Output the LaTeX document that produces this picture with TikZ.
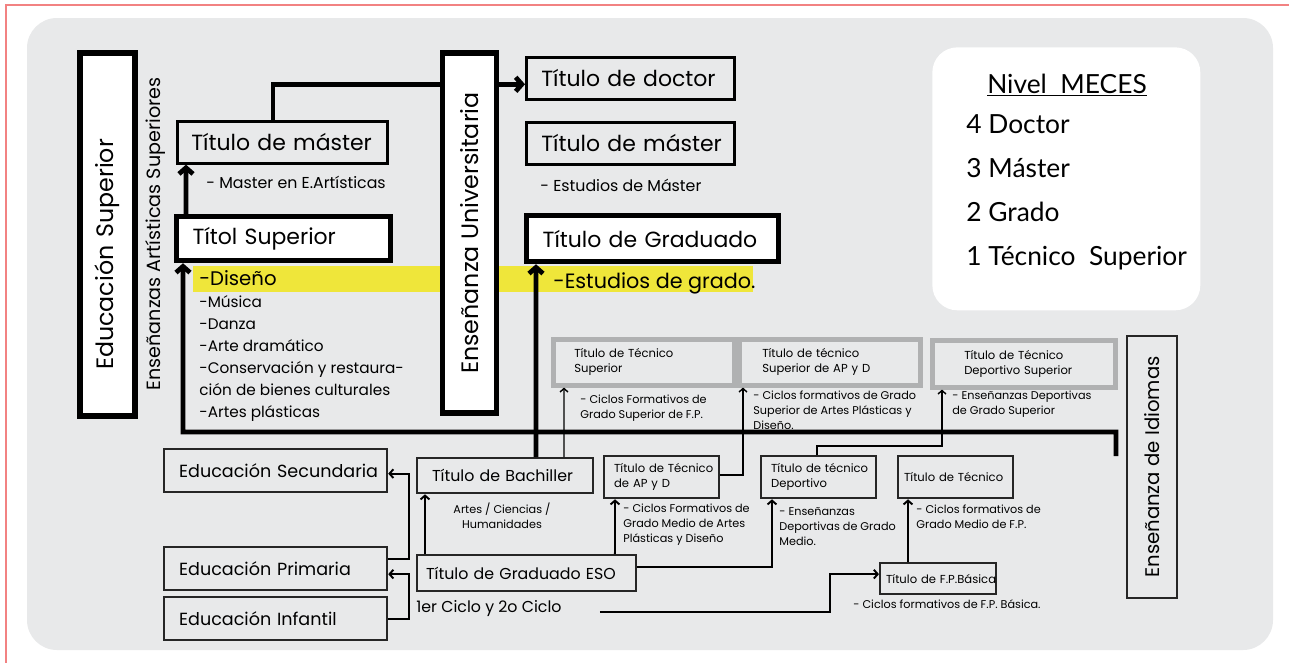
\documentclass[tikz,border=0pt]{standalone}
\usepackage{fontspec}
\setmainfont{Poppins}
\newfontfamily\mecesfont{Lato}
\usetikzlibrary{arrows.meta}

\hyphenpenalty=10000
\exhyphenpenalty=10000
\hbadness=10000
\hfuzz=50pt

\definecolor{panelgrey}{RGB}{232,233,234}
\definecolor{hilite}{RGB}{239,230,58}
\definecolor{framegrey}{RGB}{176,177,178}
\definecolor{edgered}{RGB}{242,130,130}

\newcommand\fsbig{\fontsize{12.5}{15}\selectfont}
\newcommand\fsvert{\fontsize{13.5}{16}\selectfont}
\newcommand\fsart{\fontsize{10.9}{13}\selectfont}
\newcommand\fsmid{\fontsize{9}{11}\selectfont}
\newcommand\fslist{\fontsize{8.7}{12.5}\selectfont}
\newcommand\fsdis{\fontsize{11.2}{12.5}\selectfont}
\newcommand\fsgrado{\fontsize{11.8}{14}\selectfont}
\newcommand\fslow{\fontsize{10}{12}\selectfont}
\newcommand\fsbach{\fontsize{9}{11}\selectfont}
\newcommand\fsbox{\fontsize{6.6}{8.6}\selectfont}
\newcommand\fssmall{\fontsize{6.4}{8.5}\selectfont}
\newcommand\fsidi{\fontsize{11.2}{13}\selectfont}
\newcommand\fsmeces{\mecesfont\fontsize{15}{25}\selectfont}

\tikzset{
	thinbox/.style={draw=black, line width=1.5pt, inner ysep=0pt, align=left, anchor=north west},
	thickbox/.style={draw=black, fill=white, line width=3pt, inner ysep=0pt, align=left},
	lowbox/.style={draw=black!85, line width=1.3pt, inner ysep=0pt, align=left, anchor=north west},
	greybox/.style={draw=framegrey, line width=2.6pt, inner ysep=0pt, align=left, anchor=north west},
	note/.style={inner sep=0pt, align=left, anchor=north west},
	trunk/.style={line width=2.7pt, -{Straight Barb[length=3.5pt,width=8pt]}},
	link/.style={line width=1.1pt, -{Straight Barb[length=2.2pt,width=5pt]}},
	finelink/.style={line width=0.8pt, -{Straight Barb[length=2pt,width=4.5pt]}},
}

\begin{document}
\begin{tikzpicture}[x=0.02cm, y=-0.02cm]
			%%%%% START %%%%%
			\useasboundingbox (0,0) rectangle (1289,663);
			\fill[white] (0,0) rectangle (1289,663);
			\draw[edgered, line width=0.6pt] (6,663) -- (6,5) -- (1289,5);
			\fill[panelgrey, rounded corners=0.6cm] (27,18) rectangle (1273,650);
			
			\fill[hilite] (193,266) rectangle (753,292);
			
			%%%%% ARTISTIC %%%%%
			\node[thickbox, rotate=90, text width=5.42cm, inner xsep=0.92cm, minimum height=1.1cm, font=\fsvert] (edsup) at (107.5,234.5) {Educación Superior};
			\node[rotate=90, inner sep=0pt, font=\fsart] (easup) at (156,234) {Enseñanzas Artísticas Superiores};
			
			\node[thinbox, text width=3.64cm, inner xsep=0.28cm, minimum height=0.84cm, font=\fsbig] (mastart) at (176,120) {Título~de~máster};
			\node[note, anchor=base west, font=\fsmid] (mastarttxt) at (206,188) {- Master en E.Artísticas};
			\node[thickbox, anchor=north west, text width=3.64cm, inner xsep=0.32cm, minimum height=0.88cm, font=\fsbig] (titolsup) at (174,214) {Títol~Superior};
			\node[note, font=\fslist] (listart) at (199,270) {{\fsdis -Diseño}\\-Música\\-Danza\\-Arte dramático\\-Conservación y restaura-\\ción de bienes culturales\\-Artes plásticas};
			
			%%%%% UNIVERSITY %%%%%
			\node[thinbox, text width=3.56cm, inner xsep=0.3cm, minimum height=0.84cm, font=\fsbig] (doctor) at (525,56) {Título~de~doctor};
			\node[thinbox, text width=3.56cm, inner xsep=0.3cm, minimum height=0.84cm, font=\fsbig] (masteru) at (525,121) {Título~de~máster};
			\node[note, anchor=base west, font=\fsmid] (masterutxt) at (540,191) {- Estudios de Máster};
			\node[thickbox, anchor=north west, text width=4.4cm, inner xsep=0.32cm, minimum height=0.92cm, font=\fsbig] (graduado) at (524,213) {Título~de~Graduado};
			\node[note, anchor=base west, font=\fsgrado] (gradotxt) at (553,288) {-Estudios de grado.};
			
			\draw[trunk] ([xshift=1.94cm]mastart.north west) |- ([yshift=-0.12cm]doctor.west);
			\node[thickbox, rotate=90, minimum width=7.2cm, minimum height=1.08cm, font=\fsvert] (eu) at (469.5,233) {Enseñanza Universitaria};
			
			%%%%% MECES %%%%%
			\node[fill=white, rounded corners=0.5cm, minimum width=5.36cm, minimum height=5.26cm, anchor=north west, inner sep=0pt] (meces) at (932,47) {};
			\node[anchor=base, font=\fsmeces] (mecestitle) at (1067,93) {\underline{Nivel\ \ MECES}};
			\node[note, font=\fsmeces] (meceslist) at (966,114) {4 Doctor\\3 Máster\\2 Grado\\1 Técnico\ \ Superior};
			
			%%%%% SUPERIOR TECNICO %%%%%
			\node[greybox, text width=2.78cm, inner xsep=0.42cm, minimum height=0.92cm, font=\fsbox] (tsup) at (551,337) {Título~de~Técnico\\Superior};
			\node[greybox, text width=2.7cm, inner xsep=0.46cm, minimum height=0.92cm, font=\fsbox] (tapd) at (737,337) {Título~de~técnico\\Superior~de~AP~y~D};
			\node[greybox, text width=2.38cm, inner xsep=0.64cm, minimum height=0.94cm, font=\fsbox] (tdep) at (930,338) {Título~de~Técnico\\Deportivo~Superior};
			\node[note, font=\fssmall] (tsuptxt) at (580,395) {- Ciclos Formativos de\\Grado Superior de F.P.};
			\node[note, font=\fssmall] (tapdtxt) at (753,391) {- Ciclos formativos de Grado\\Superior de Artes Plásticas y\\Diseño.};
			\node[note, font=\fssmall] (tdeptxt) at (952,391) {- Enseñanzas Deportivas\\de Grado Superior};
			
			\node[lowbox, anchor=center, rotate=90, minimum width=5.24cm, minimum height=1.0cm, font=\fsidi] (idiomas) at (1152,467) {Enseñanza de Idiomas};
			
			%%%%% LOWER %%%%%
			\node[lowbox, text width=3.86cm, inner xsep=0.3cm, minimum height=0.86cm, font=\fslow] (edsec) at (163,448) {Educación~Secundaria};
			\node[lowbox, text width=3.86cm, inner xsep=0.3cm, minimum height=0.86cm, font=\fslow] (edprim) at (163,546) {Educación~Primaria};
			\node[lowbox, text width=3.86cm, inner xsep=0.3cm, minimum height=0.86cm, font=\fslow] (edinf) at (163,596) {Educación~Infantil};
			
			\node[lowbox, text width=2.92cm, inner xsep=0.3cm, minimum height=0.7cm, font=\fsbach] (bach) at (416,457) {Título~de~Bachiller};
			\node[note, anchor=north, align=center, font=\fssmall] (bachtxt) at (502,503) {Artes / Ciencias /\\Humanidades};
			\node[lowbox, text width=4.02cm, inner xsep=0.18cm, minimum height=0.72cm, font=\fsbach] (eso) at (416,554) {Título~de~Graduado~ESO};
			\node[note, anchor=base west, font=\fsbach] (ciclos) at (416,612) {1er Ciclo y 2o Ciclo};
			
			\node[lowbox, text width=1.9cm, inner xsep=0.2cm, minimum height=0.84cm, font=\fsbox] (tmapd) at (603,455) {Título~de~Técnico\\de~AP~y~D};
			\node[note, font=\fssmall] (tmapdtxt) at (623,504) {- Ciclos Formativos de\\Grado Medio de Artes\\Plásticas y Diseño};
			\node[lowbox, text width=1.9cm, inner xsep=0.2cm, minimum height=0.84cm, font=\fsbox] (tmdep) at (760,455) {Título~de~técnico\\Deportivo};
			\node[note, font=\fssmall] (tmdeptxt) at (779,507) {- Enseñanzas\\Deportivas de Grado\\Medio.};
			\node[lowbox, text width=2.06cm, inner xsep=0.12cm, minimum height=0.84cm, font=\fsbox] (tecnico) at (897,455) {Título~de~Técnico};
			\node[note, font=\fssmall] (tecnicotxt) at (916,505) {- Ciclos formativos de\\Grado Medio de F.P.};
			\node[lowbox, text width=2.08cm, inner xsep=0.12cm, minimum height=0.62cm, font=\fsbox] (fpb) at (879,562) {Título~de~F.P.Básica};
			\node[note, anchor=base west, font=\fssmall] (fpbtxt) at (853,608) {- Ciclos formativos de F.P. Básica.};
			
			%%%%% CONNECTORS %%%%%
			\coordinate (langend) at (1116,456);
			\coordinate (crossing) at (183,432);
			\draw[trunk] (langend) |- (crossing) -- ([xshift=0.18cm]titolsup.south west);
			\draw[trunk] ([xshift=0.24cm]titolsup.north west) -- ([xshift=0.2cm]mastart.south west);
			\draw[trunk] ([xshift=2.4cm]bach.north west) -- ([xshift=0.24cm]graduado.south west);
			
			\draw[link] ([yshift=0.19cm]edprim.east) -- ++(21,0) |- ([yshift=-0.06cm]edsec.east);
			\draw[link] (edinf.east) -- ++(21,0) |- ([yshift=-0.11cm]edprim.east);
			\draw[link] ([xshift=0.18cm]eso.north west) -- ([xshift=0.18cm]bach.south west);
			\draw[link] ([xshift=3.98cm]eso.north west) -- ([xshift=0.24cm]tmapd.south west);
			\draw[link] ([yshift=0.12cm]eso.east) -| ([xshift=0.24cm]tmdep.south west);
			\draw[link] ([xshift=3.68cm]ciclos.base west) -- ++(230,0) |- ([yshift=0.09cm]fpb.west);
			\draw[link] ([xshift=0.58cm]fpb.north west) -- ([xshift=0.22cm]tecnico.south west);
			
			\draw[finelink] ([xshift=2.96cm]bach.north west) -- ([xshift=0.26cm]tsup.south west);
			\draw[finelink] ([yshift=0.04cm]tmapd.east) -| ([xshift=0.12cm]tapd.south west);
			\draw[finelink] ([xshift=1.14cm]tmdep.north west) -- ++(0,-9) -| ([xshift=0.24cm]tdep.south west);
			
			%%%%% END %%%%%
\end{tikzpicture}
\end{document}
